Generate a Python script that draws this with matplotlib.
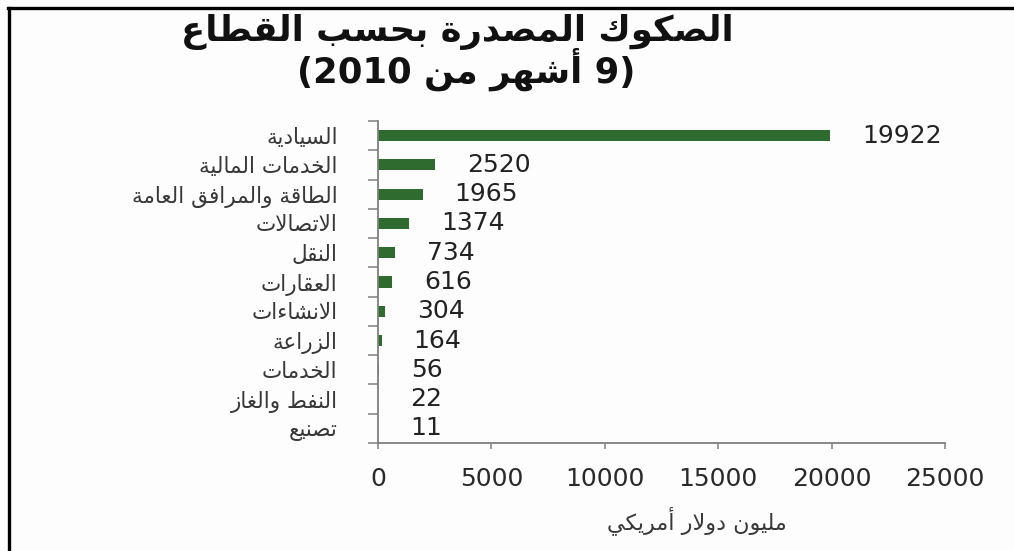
import matplotlib
matplotlib.use("Agg")
import matplotlib.pyplot as plt
from matplotlib.lines import Line2D

# ---- data ---------------------------------------------------------------
sectors = [
    "السيادية",
    "الخدمات المالية",
    "الطاقة والمرافق العامة",
    "الاتصالات",
    "النقل",
    "العقارات",
    "الانشاءات",
    "الزراعة",
    "الخدمات",
    "النفط والغاز",
    "تصنيع",
]
issued = [19922, 2520, 1965, 1374, 734, 616, 304, 164, 56, 22, 11]
x_ticks = [0, 5000, 10000, 15000, 20000, 25000]
title_line1 = "الصكوك المصدرة بحسب القطاع"
title_line2 = "(9 أشهر من 2010)"
x_label = "مليون دولار أمريكي"

# ---- minimal Arabic shaping + visual ordering ---------------------------
_FORMS = {
    'ء': (0xFE80, 1), 'آ': (0xFE81, 2), 'أ': (0xFE83, 2), 'ؤ': (0xFE85, 2),
    'إ': (0xFE87, 2), 'ئ': (0xFE89, 4), 'ا': (0xFE8D, 2), 'ب': (0xFE8F, 4),
    'ة': (0xFE93, 2), 'ت': (0xFE95, 4), 'ث': (0xFE99, 4), 'ج': (0xFE9D, 4),
    'ح': (0xFEA1, 4), 'خ': (0xFEA5, 4), 'د': (0xFEA9, 2), 'ذ': (0xFEAB, 2),
    'ر': (0xFEAD, 2), 'ز': (0xFEAF, 2), 'س': (0xFEB1, 4), 'ش': (0xFEB5, 4),
    'ص': (0xFEB9, 4), 'ض': (0xFEBD, 4), 'ط': (0xFEC1, 4), 'ظ': (0xFEC5, 4),
    'ع': (0xFEC9, 4), 'غ': (0xFECD, 4), 'ف': (0xFED1, 4), 'ق': (0xFED5, 4),
    'ك': (0xFED9, 4), 'ل': (0xFEDD, 4), 'م': (0xFEE1, 4), 'ن': (0xFEE5, 4),
    'ه': (0xFEE9, 4), 'و': (0xFEED, 2), 'ى': (0xFEEF, 2), 'ي': (0xFEF1, 4),
}
_LAM_ALEF = {'آ': 0xFEF5, 'أ': 0xFEF7, 'إ': 0xFEF9, 'ا': 0xFEFB}
_MIRROR = {'(': ')', ')': '('}


def _shape(text):
    # merge lam + alef into ligature tokens
    units = []
    i = 0
    while i < len(text):
        c = text[i]
        if c == 'ل' and i + 1 < len(text) and text[i + 1] in _LAM_ALEF:
            units.append(('LA', text[i + 1]))
            i += 2
        else:
            units.append(('C', c))
            i += 1

    def n_forms(u):
        if u[0] == 'LA':
            return 2
        return _FORMS.get(u[1], (0, 0))[1]

    out = []
    for k, u in enumerate(units):
        nf = n_forms(u)
        if nf == 0:
            out.append(u[1])
            continue
        prev_j = k > 0 and n_forms(units[k - 1]) == 4
        next_j = nf == 4 and k + 1 < len(units) and n_forms(units[k + 1]) >= 2
        if u[0] == 'LA':
            out.append(chr(_LAM_ALEF[u[1]] + (1 if prev_j else 0)))
            continue
        base = _FORMS[u[1]][0]
        if nf == 1:
            out.append(chr(base))
        elif prev_j and next_j:
            out.append(chr(base + 3))
        elif next_j:
            out.append(chr(base + 2))
        elif prev_j:
            out.append(chr(base + 1))
        else:
            out.append(chr(base))
    return ''.join(out)


def ar(text):
    s = _shape(text)[::-1]
    # restore left-to-right order of digit runs and mirror brackets
    res, run = [], []
    for c in s:
        if c.isdigit() or c == '.':
            run.append(c)
        else:
            if run:
                res.extend(run[::-1])
                run = []
            res.append(_MIRROR.get(c, c))
    if run:
        res.extend(run[::-1])
    return ''.join(res)


# ---- figure -------------------------------------------------------------
W, H, DPI = 1014, 551, 100
plt.rcParams['font.family'] = ['DejaVu Sans']
fig = plt.figure(figsize=(W / DPI, H / DPI), dpi=DPI, facecolor='#fdfdfd')

ax_l, ax_r, ax_t, ax_b = 378, 945, 121, 443
ax = fig.add_axes([ax_l / W, 1 - ax_b / H, (ax_r - ax_l) / W, (ax_b - ax_t) / H])
ax.set_facecolor('#fdfdfd')

pos = list(range(len(sectors)))
bar_color = '#2f6a2f'
ax.barh(pos, issued, height=0.38, color=bar_color)

ax.set_xlim(0, 25000)
ax.set_ylim(len(sectors) - 0.5, -0.5)

# category boundaries carry the tick marks, centres carry the labels
ax.set_yticks([p - 0.5 for p in pos] + [len(sectors) - 0.5])
ax.set_yticklabels([])
ax.set_yticks(pos, minor=True)
ax.set_yticklabels([ar(s) for s in sectors], minor=True, fontsize=15.5, color='#383838')
ax.tick_params(axis='y', which='major', direction='out', length=7, width=1.1, color='#7f7f7f')
ax.tick_params(axis='y', which='minor', length=0, pad=29)

ax.set_xticks(x_ticks)
ax.set_xticklabels([str(t) for t in x_ticks], fontsize=18, color='#2a2a2a')
ax.tick_params(axis='x', direction='out', length=4, width=1.1, color='#7f7f7f', pad=13)

for side in ('top', 'right'):
    ax.spines[side].set_visible(False)
for side in ('left', 'bottom'):
    ax.spines[side].set_color('#7f7f7f')
    ax.spines[side].set_linewidth(1.3)

for p, v in zip(pos, issued):
    ax.annotate(str(v), xy=(v, p), xytext=(23, 0), textcoords='offset points',
                ha='left', va='center', fontsize=18, color='#222222')

# titles and axis caption
fig.text(457 / W, 1 - 32 / H, ar(title_line1), ha='center', va='center',
         fontsize=25.5, fontweight='bold', color='#111111')
fig.text(466 / W, 1 - 69 / H, ar(title_line2), ha='center', va='center',
         fontsize=25.5, fontweight='bold', color='#111111')
fig.text(697 / W, 1 - 521 / H, ar(x_label), ha='center', va='center',
         fontsize=16, color='#383838')

# frame lines along the top and left edge
fig.add_artist(Line2D([8 / W, 1.0], [1 - 8 / H, 1 - 8 / H], transform=fig.transFigure,
                      color='black', linewidth=2.4))
fig.add_artist(Line2D([9 / W, 9 / W], [1 - 8 / H, 0.0], transform=fig.transFigure,
                      color='black', linewidth=2.4))

fig.savefig('out.png', dpi=DPI, facecolor=fig.get_facecolor())
